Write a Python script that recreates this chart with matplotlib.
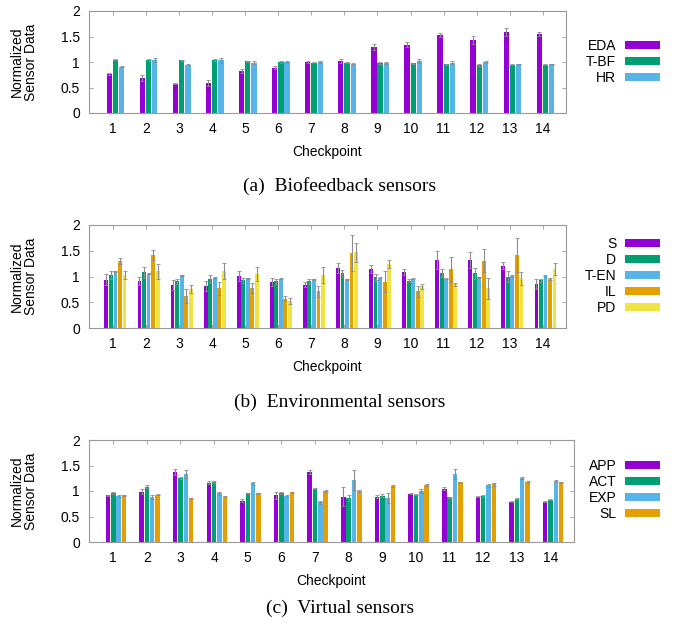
import matplotlib
matplotlib.use("Agg")
import matplotlib.pyplot as plt
import numpy as np

plt.rcParams.update({"font.family": "Liberation Sans", "font.size": 10})

checkpoints = list(range(1, 15))
ytick_vals = [0, 0.5, 1, 1.5, 2]
ytick_labels = ["0", "0.5", "1", "1.5", "2"]

# (a) biofeedback sensors
bio_names = ["EDA", "T-BF", "HR"]
eda = [0.77, 0.68, 0.57, 0.59, 0.83, 0.89, 1.00, 1.02, 1.30, 1.34, 1.53, 1.43, 1.59, 1.55]
eda_err = [0.02, 0.06, 0.01, 0.06, 0.04, 0.03, 0.02, 0.03, 0.06, 0.05, 0.03, 0.08, 0.08, 0.04]
tbf = [1.04, 1.04, 1.03, 1.03, 1.01, 1.00, 0.99, 0.99, 0.98, 0.98, 0.96, 0.95, 0.95, 0.95]
tbf_err = [0.01, 0.02, 0.01, 0.02, 0.01, 0.01, 0.01, 0.01, 0.02, 0.01, 0.01, 0.02, 0.01, 0.01]
hr = [0.91, 1.04, 0.95, 1.03, 0.99, 1.00, 1.00, 0.97, 0.98, 1.02, 0.99, 1.00, 0.96, 0.96]
hr_err = [0.01, 0.04, 0.01, 0.04, 0.02, 0.02, 0.02, 0.01, 0.02, 0.03, 0.02, 0.02, 0.01, 0.01]

# (b) environmental sensors
env_names = ["S", "D", "T-EN", "IL", "PD"]
s_v = [0.94, 0.91, 0.83, 0.81, 1.01, 0.89, 0.84, 1.17, 1.14, 1.09, 1.32, 1.32, 1.21, 0.85]
s_err = [0.10, 0.08, 0.10, 0.10, 0.10, 0.08, 0.05, 0.10, 0.08, 0.06, 0.18, 0.15, 0.07, 0.10]
d_v = [1.03, 1.08, 0.91, 0.95, 0.93, 0.91, 0.91, 1.06, 0.99, 0.92, 1.07, 1.06, 1.00, 0.93]
d_err = [0.08, 0.10, 0.05, 0.07, 0.05, 0.05, 0.05, 0.06, 0.05, 0.03, 0.07, 0.10, 0.10, 0.03]
ten_v = [1.10, 1.05, 1.02, 0.97, 0.97, 0.96, 0.95, 0.95, 0.98, 0.96, 0.96, 0.99, 1.01, 1.01]
ten_err = [0.01, 0.01, 0.01, 0.02, 0.01, 0.01, 0.01, 0.01, 0.01, 0.01, 0.01, 0.01, 0.01, 0.01]
il_v = [1.30, 1.42, 0.62, 0.77, 0.77, 0.57, 0.71, 1.45, 0.90, 0.71, 1.14, 1.31, 1.42, 0.96]
il_err = [0.06, 0.10, 0.13, 0.12, 0.10, 0.05, 0.10, 0.35, 0.20, 0.10, 0.24, 0.23, 0.33, 0.02]
pd_v = [1.03, 1.10, 0.76, 1.11, 1.05, 0.52, 1.03, 1.47, 1.25, 0.81, 0.85, 0.77, 0.96, 1.14]
pd_err = [0.07, 0.14, 0.08, 0.15, 0.14, 0.06, 0.15, 0.18, 0.08, 0.05, 0.03, 0.20, 0.12, 0.12]

# (c) virtual sensors
vir_names = ["APP", "ACT", "EXP", "SL"]
app = [0.92, 0.99, 1.37, 1.16, 0.81, 0.92, 1.37, 0.89, 0.89, 0.95, 1.04, 0.89, 0.79, 0.79]
app_err = [0.01, 0.05, 0.06, 0.03, 0.03, 0.07, 0.04, 0.18, 0.03, 0.01, 0.03, 0.01, 0.01, 0.01]
act = [0.96, 1.08, 1.25, 1.18, 0.96, 0.96, 1.04, 0.87, 0.91, 0.93, 0.88, 0.90, 0.85, 0.83]
act_err = [0.02, 0.03, 0.02, 0.02, 0.01, 0.02, 0.01, 0.06, 0.03, 0.01, 0.01, 0.02, 0.01, 0.01]
exp_ = [0.91, 0.89, 1.34, 0.96, 1.15, 0.91, 0.78, 1.22, 0.86, 1.00, 1.33, 1.11, 1.26, 1.20]
exp_err = [0.02, 0.04, 0.08, 0.03, 0.03, 0.02, 0.03, 0.20, 0.10, 0.04, 0.10, 0.03, 0.02, 0.02]
sl = [0.92, 0.93, 0.86, 0.89, 0.96, 0.98, 1.00, 1.00, 1.09, 1.12, 1.17, 1.13, 1.17, 1.17]
sl_err = [0.01, 0.01, 0.01, 0.01, 0.01, 0.01, 0.01, 0.01, 0.02, 0.02, 0.01, 0.03, 0.02, 0.01]

COLORS = ["#9400D3", "#009E73", "#56B4E9", "#E69F00", "#F0E442"]
BORDER = "#999999"
W, H = 677, 628

panels = [
    # series, errors, names, axes px box (l, r, top, bottom), legend centre y, caption, caption y, xlabel y
    ([eda, tbf, hr], [eda_err, tbf_err, hr_err], bio_names,
     (89, 566, 11, 113), 62, "(a)  Biofeedback sensors", 186, 152),
    ([s_v, d_v, ten_v, il_v, pd_v], [s_err, d_err, ten_err, il_err, pd_err], env_names,
     (89, 566, 225, 328), 276, "(b)  Environmental sensors", 402, 367),
    ([app, act, exp_, sl], [app_err, act_err, exp_err, sl_err], vir_names,
     (89, 574, 440, 542), 490, "(c)  Virtual sensors", 608, 581),
]

fig = plt.figure(figsize=(W / 100, H / 100), dpi=100)
x = np.array(checkpoints, dtype=float)

for series, errs, names, (l, r, t, b), leg_y, caption, cap_y, xl_y in panels:
    ax = fig.add_axes([l / W, 1 - b / H, (r - l) / W, (b - t) / H])
    n = len(series)
    slot = 1.0 / (n + 2.3)
    handles = []
    for i, (vals, err) in enumerate(zip(series, errs)):
        pos = x + 0.08 + (i - (n - 1) / 2) * slot
        h = ax.bar(pos, vals, width=slot * 0.85, color=COLORS[i], label=names[i],
                   edgecolor="none", zorder=2)
        ax.errorbar(pos, vals, yerr=err, fmt="none", ecolor="#8c8c8c",
                    elinewidth=0.8, capsize=1.2, capthick=0.6, zorder=3)
        handles.append(h)
    ax.set_xlim(0.28, 14.7)
    ax.set_ylim(0, 2)
    ax.set_xticks(checkpoints)
    ax.set_xticklabels([str(c) for c in checkpoints])
    ax.set_yticks(ytick_vals)
    ax.set_yticklabels(ytick_labels)
    ax.tick_params(direction="in", length=3, width=0.6, color=BORDER,
                   top=True, right=True, labelsize=10)
    ax.tick_params(axis="x", pad=6.5)
    ax.tick_params(axis="y", pad=6.5)
    for sp in ax.spines.values():
        sp.set_color(BORDER)
        sp.set_linewidth(0.8)

    ax.legend(handles=handles, loc="center right", frameon=False,
              bbox_to_anchor=(660 / W, 1 - leg_y / H), bbox_transform=fig.transFigure,
              markerfirst=False, handlelength=2.5, handleheight=0.5,
              handletextpad=0.65, labelspacing=0.15, borderpad=0, borderaxespad=0,
              fontsize=10)

    fig.text((l + r) / 2 / W, 1 - xl_y / H, "Checkpoint",
             ha="center", va="center", fontsize=10)
    fig.text(24 / W, 1 - (t + b) / 2 / H, "Normalized\nSensor Data", rotation=90,
             ha="center", va="center", fontsize=10, linespacing=0.95)
    fig.text(340 / W, 1 - cap_y / H, caption, ha="center", va="center",
             fontsize=14, family="Liberation Serif")

fig.savefig("out.png", dpi=100)
